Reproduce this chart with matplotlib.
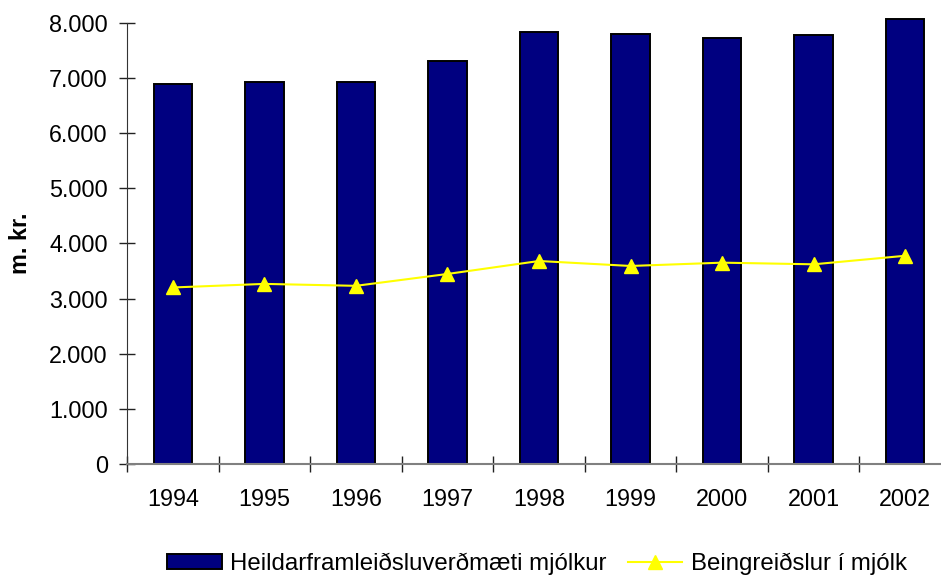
import matplotlib
matplotlib.use("Agg")
import matplotlib.pyplot as plt
import numpy as np
from matplotlib.ticker import FuncFormatter

plt.rcParams['font.family'] = ['Liberation Sans', 'DejaVu Sans']

years = ["1994", "1995", "1996", "1997", "1998", "1999", "2000", "2001", "2002"]
heildar = [6880, 6920, 6925, 7300, 7830, 7800, 7730, 7770, 8070]
beingreidslur = [3200, 3265, 3230, 3445, 3680, 3590, 3650, 3620, 3775]
yticks = [0, 1000, 2000, 3000, 4000, 5000, 6000, 7000, 8000]

fs = 16.8
fig = plt.figure(figsize=(9.41, 5.79), dpi=100)
ax = fig.add_axes([127 / 941, 1 - 464 / 579, 824 / 941, 441.3 / 579])

x = np.arange(len(years))
bars = ax.bar(x, heildar, width=0.42, color="#000080", edgecolor="black", linewidth=1.4,
              clip_on=False, zorder=2, label="Heildarframleiðsluverðmæti mjólkur")
line, = ax.plot(x, beingreidslur, color="#FFFF00", linewidth=1.5, marker="^", markersize=10,
                markeredgecolor="#FFFF00", zorder=3, label="Beingreiðslur í mjólk")

ax.set_xlim(-0.5, len(years) - 0.5)
ax.set_ylim(0, 8000)
ax.set_yticks(yticks)
ax.yaxis.set_major_formatter(FuncFormatter(lambda v, p: f"{int(v):,}".replace(",", ".")))
ax.set_xticks(x)
ax.set_xticklabels(years)
ax.set_xticks(np.arange(-0.5, len(years), 1.0), minor=True)

ax.tick_params(axis="x", which="major", length=0, pad=17, labelsize=fs)
ax.tick_params(axis="x", which="minor", direction="inout", length=11.5, width=1, color="#222222")
ax.tick_params(axis="y", direction="inout", length=11.5, width=1, color="#222222", pad=8, labelsize=fs)

for s in ["top", "right"]:
    ax.spines[s].set_visible(False)
ax.spines["left"].set_color("#333333")
ax.spines["bottom"].set_color("#808080")
ax.spines["bottom"].set_linewidth(1.5)

ax.set_ylabel("m. kr.", fontsize=fs, fontweight="bold")
ax.yaxis.set_label_coords(-95 / 824, 0.5)

fig.legend([bars, line], [bars.get_label(), line.get_label()],
           loc="center", bbox_to_anchor=(537 / 941, 1 - 564 / 579), ncol=2, frameon=False,
           fontsize=17.3, handlelength=2.25, handleheight=0.55, handletextpad=0.35,
           columnspacing=0.9, borderpad=0)

fig.savefig("out.png", dpi=100)
